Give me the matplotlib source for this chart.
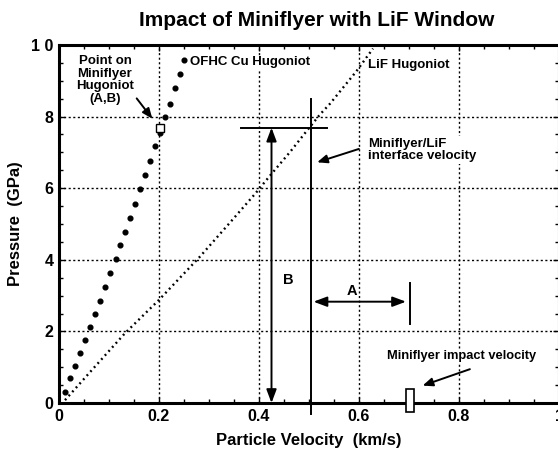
import numpy as np
import matplotlib
matplotlib.use("Agg")
from matplotlib import pyplot as plt
from matplotlib.patches import Rectangle
from matplotlib.ticker import MultipleLocator, FixedLocator

plt.rcParams["font.family"] = ["Liberation Sans", "DejaVu Sans"]
plt.rcParams["font.weight"] = "bold"

# OFHC Cu Hugoniot (large dots)
cu_u = [0.012, 0.022, 0.031, 0.042, 0.051, 0.062, 0.071, 0.081, 0.092, 0.102,
        0.113, 0.122, 0.132, 0.141, 0.152, 0.162, 0.172, 0.181, 0.191, 0.202,
        0.212, 0.222, 0.231, 0.242, 0.249]
cu_p = [0.32, 0.71, 1.04, 1.39, 1.76, 2.13, 2.50, 2.86, 3.24, 3.63,
        4.01, 4.41, 4.77, 5.17, 5.57, 5.98, 6.36, 6.75, 7.17, 7.55,
        7.98, 8.36, 8.80, 9.20, 9.59]

# LiF Hugoniot (dotted curve)
lif_u = [0.012, 0.067, 0.132, 0.200, 0.282, 0.342, 0.392, 0.422, 0.462, 0.492,
         0.522, 0.542, 0.595, 0.628]
lif_p = [0.08, 0.94, 1.95, 2.88, 4.09, 5.04, 5.84, 6.35, 7.01, 7.54,
         8.06, 8.36, 9.27, 9.90]

# annotation values
point_ab = (0.202, 7.69)       # point on miniflyer hugoniot
interface_u = 0.503            # miniflyer/LiF interface velocity
impact_u = 0.702               # miniflyer impact velocity
b_arrow_u = 0.425
a_arrow_p = 2.83

x_ticks = [0, 0.2, 0.4, 0.6, 0.8, 1.0]
x_labels = ["0", "0.2", "0.4", "0.6", "0.8", "1"]
y_ticks = [0, 2, 4, 6, 8, 10]
y_labels = ["0", "2", "4", "6", "8", "1 0"]

fig = plt.figure(figsize=(5.58, 4.51), dpi=100)
ax = fig.add_axes([59 / 558, 48 / 451, 500 / 558, 358 / 451])
ax.set_xlim(0, 1.0)
ax.set_ylim(0, 10)

grid_kw = dict(color="black", lw=1.0, ls=(0, (1.5, 1.8)), zorder=1)
for gx in [0.2, 0.4, 0.6, 0.8]:
    ax.axvline(gx, **grid_kw)
for gy in [2, 4, 6, 8]:
    ax.axhline(gy, **grid_kw)

# hugoniots
ax.plot(cu_u, cu_p, ls="none", marker="o", ms=3.4, color="black", zorder=3)
ax.plot(lif_u, lif_p, ls=(0, (0.8, 1.5)), lw=1.7, color="black", zorder=3)

# point (A,B)
ax.plot([point_ab[0]], [point_ab[1]], marker="s", ms=6, mfc="white", mec="black",
        mew=1.0, zorder=5)
ax.text(0.092, 9.02, "Point on\nMiniflyer\nHugoniot\n(A,B)", ha="center", va="center",
        fontsize=9.5, linespacing=1.08, zorder=6,
        bbox=dict(fc="white", ec="none", pad=0.5))
ax.annotate("", xy=(0.19, 7.88), xytext=(0.152, 8.57),
            arrowprops=dict(arrowstyle="-|>,head_length=0.6,head_width=0.25",
                            color="black", lw=1.4), zorder=6)

ax.text(0.262, 9.52, "OFHC Cu Hugoniot", ha="left", va="center", fontsize=9.5,
        zorder=6, bbox=dict(fc="white", ec="none", pad=0.5))
ax.text(0.618, 9.45, "LiF Hugoniot", ha="left", va="center", fontsize=9.5,
        zorder=6, bbox=dict(fc="white", ec="none", pad=0.5))

# interface velocity line and pressure level
ax.plot([interface_u, interface_u], [-0.3, 8.5], color="black", lw=1.4,
        clip_on=False, zorder=4)
ax.plot([0.363, 0.535], [point_ab[1], point_ab[1]], color="black", lw=1.4, zorder=4)
ax.text(0.618, 7.06, "Miniflyer/LiF\ninterface velocity", ha="left", va="center",
        fontsize=9.5, linespacing=1.0, zorder=6,
        bbox=dict(fc="white", ec="none", pad=1.5))
ax.annotate("", xy=(0.511, 6.70), xytext=(0.605, 7.12),
            arrowprops=dict(arrowstyle="-|>,head_length=0.6,head_width=0.25",
                            color="black", lw=1.4), zorder=6)

# B arrow
ax.annotate("", xy=(b_arrow_u, 0.0), xytext=(b_arrow_u, point_ab[1]),
            arrowprops=dict(arrowstyle="<|-|>,head_length=0.8,head_width=0.3",
                            color="black", lw=1.4, shrinkA=0, shrinkB=0), zorder=4)
ax.text(0.447, 3.44, "B", ha="left", va="center", fontsize=10.5, zorder=6)

# A arrow
ax.annotate("", xy=(interface_u + 0.006, a_arrow_p), xytext=(0.694, a_arrow_p),
            arrowprops=dict(arrowstyle="<|-|>,head_length=0.8,head_width=0.3",
                            color="black", lw=1.4, shrinkA=0, shrinkB=0), zorder=4)
ax.text(0.585, 3.13, "A", ha="center", va="center", fontsize=10.5, zorder=6)
ax.plot([impact_u, impact_u], [2.21, 3.35], color="black", lw=1.4, zorder=4)

# impact velocity marker
ax.add_patch(Rectangle((impact_u - 0.008, -0.25), 0.016, 0.64, fc="white",
                       ec="black", lw=1.2, clip_on=False, zorder=7))
ax.text(0.806, 1.31, "Miniflyer impact velocity", ha="center", va="center",
        fontsize=9.3, zorder=6, bbox=dict(fc="white", ec="none", pad=0.5))
ax.annotate("", xy=(0.722, 0.46), xytext=(0.827, 0.97),
            arrowprops=dict(arrowstyle="-|>,head_length=0.6,head_width=0.25",
                            color="black", lw=1.4), zorder=6)

# axes styling
for side in ["left", "bottom", "top", "right"]:
    ax.spines[side].set_linewidth(2.2)
ax.xaxis.set_major_locator(FixedLocator(x_ticks))
ax.yaxis.set_major_locator(FixedLocator(y_ticks))
ax.set_xticklabels(x_labels)
ax.set_yticklabels(y_labels)
ax.xaxis.set_minor_locator(MultipleLocator(0.05))
ax.yaxis.set_minor_locator(MultipleLocator(0.5))
ax.tick_params(which="both", direction="in", top=True, right=True, width=1.0)
ax.tick_params(which="major", length=4, labelsize=11.5, pad=4)
ax.tick_params(which="minor", length=3)
for lab in ax.get_xticklabels() + ax.get_yticklabels():
    lab.set_fontweight("bold")

ax.set_xlabel("Particle Velocity  (km/s)", fontsize=12, fontweight="bold", labelpad=7)
ax.set_ylabel("Pressure  (GPa)", fontsize=12, fontweight="bold", labelpad=6)
fig.text(317 / 558, 1 - 20 / 451, "Impact of Miniflyer with LiF Window",
         ha="center", va="center", fontsize=15, fontweight="bold")

fig.savefig("out.png", dpi=100)
